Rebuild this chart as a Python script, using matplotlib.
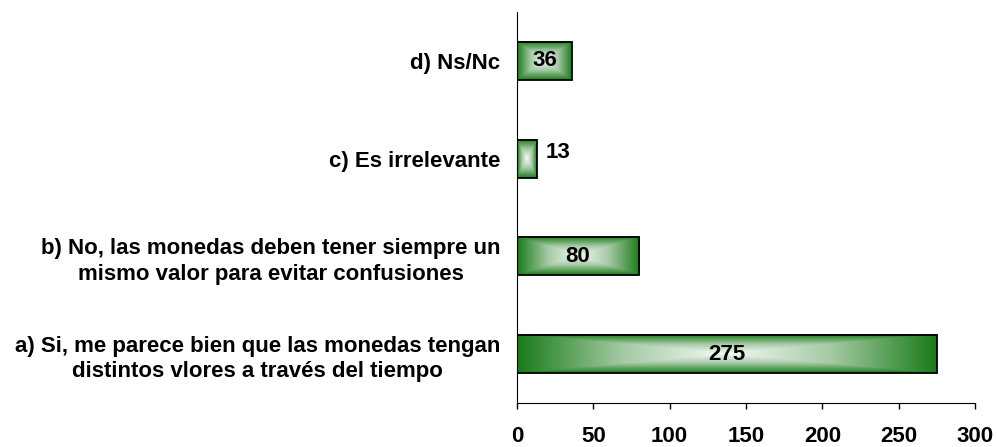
import numpy as np
import matplotlib.pyplot as plt
from matplotlib.colors import LinearSegmentedColormap
from matplotlib.patches import Rectangle

plt.rcParams['font.family'] = ['Liberation Sans', 'DejaVu Sans']
plt.rcParams['font.weight'] = 'bold'

categories = ['a) Si, me parece bien que las monedas tengan\ndistintos vlores a través del tiempo',
              'b) No, las monedas deben tener siempre un\nmismo valor para evitar confusiones',
              'c) Es irrelevante',
              'd) Ns/Nc']
values = [275, 80, 13, 36]
x_ticks = [0, 50, 100, 150, 200, 250, 300]

fig = plt.figure(figsize=(9.97, 4.47), dpi=100)
ax = fig.add_axes([517 / 997, 44 / 447, 458 / 997, 391 / 447])

# rectangular gradient: green at the edges, white in the middle
cmap = LinearSegmentedColormap.from_list('grad', ['#f6f9f6', '#a4c9a4', '#1a7c1a'])
U, V = np.meshgrid(np.linspace(-1, 1, 300), np.linspace(-1, 1, 80))
grad = np.maximum(np.abs(U), np.abs(V))
bar_h = 0.39

for i, val in enumerate(values):
    ax.imshow(grad, extent=[0, val, i - bar_h / 2, i + bar_h / 2], aspect='auto',
              cmap=cmap, vmin=0, vmax=1, interpolation='bilinear', zorder=2)
    ax.add_patch(Rectangle((0, i - bar_h / 2), val, bar_h, fill=False,
                           edgecolor='black', linewidth=1.3, zorder=3))
    if val > 20:
        ax.text(val / 2, i, str(val), ha='center', va='center', fontsize=16,
                fontweight='bold', zorder=4)
    else:
        # small bar: label sits outside, to the right
        ax.text(val + 6, i + 0.06, str(val), ha='left', va='center', fontsize=16,
                fontweight='bold', zorder=4)

ax.set_xlim(0, 300)
ax.set_ylim(-0.5, 3.5)
ax.set_xticks(x_ticks)
ax.set_xticklabels([str(t) for t in x_ticks], fontsize=16, fontweight='bold')
ax.set_yticks(range(len(categories)))
ax.set_yticklabels(categories, fontsize=16, fontweight='bold',
                   multialignment='center', linespacing=1.3)
ax.tick_params(axis='y', length=0, pad=12)
ax.tick_params(axis='x', length=4.5, width=1, pad=12, direction='out')
ax.spines['top'].set_visible(False)
ax.spines['right'].set_visible(False)
ax.set_aspect('auto')

fig.savefig('out.png', dpi=100)
